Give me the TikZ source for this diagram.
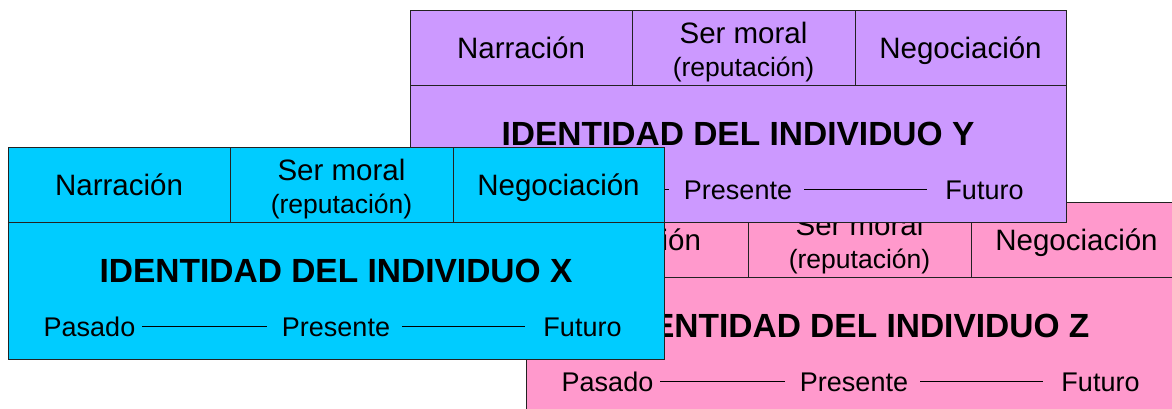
\documentclass[tikz,border=0pt]{standalone}
\usepackage{fontspec}
\setmainfont{Liberation Sans}
\definecolor{cardX}{HTML}{00CCFF}
\definecolor{cardY}{HTML}{CC99FF}
\definecolor{cardZ}{HTML}{FF99CC}
\definecolor{edge}{HTML}{222222}
\tikzset{
  box/.style={draw=edge, line width=1.1pt, inner sep=0pt, anchor=north west},
  head/.style={font=\fontsize{29.5}{31}\selectfont, anchor=base, inner sep=0pt},
  sub/.style={font=\fontsize{26.5}{28}\selectfont, anchor=base, inner sep=0pt},
  ttl/.style={font=\fontsize{33.5}{36}\selectfont\bfseries, anchor=base, inner sep=0pt},
  tl/.style={font=\fontsize{27}{29}\selectfont, anchor=base, inner sep=0pt, text height=19pt, text depth=0pt},
  tline/.style={draw=black, line width=1.6pt},
}
\newcommand{\card}[4]{%
  \begin{scope}[shift={#2}]
    \node[box, fill=#3, minimum width=656pt, minimum height=212pt] (#1body) at (0,0) {};
    \node[box, fill=#3, minimum width=222pt, minimum height=75pt] (#1c1) at (0,0) {};
    \node[box, fill=#3, minimum width=223pt, minimum height=75pt] (#1c2) at (222,0) {};
    \node[box, fill=#3, minimum width=211pt, minimum height=75pt] (#1c3) at (445,0) {};
    \node[head] (#1nar) at (111,48) {Narración};
    \node[head] (#1ser) at (333.5,33) {Ser moral};
    \node[sub]  (#1rep) at (333.5,66) {(reputación)};
    \node[head] (#1neg) at (550.5,48) {Negociación};
    \node[ttl]  (#1ttl) at (328,135) {IDENTIDAD DEL INDIVIDUO #4};
    \node[tl] (#1pas) at (81.5,189) {Pasado};
    \node[tl] (#1pre) at (328,189) {Presente};
    \node[tl] (#1fut) at (574.5,189) {Futuro};
    \draw[tline, shorten <=7pt, shorten >=15pt] (#1pas.east) -- (#1pre.west);
    \draw[tline, shorten <=12pt, shorten >=18pt] (#1pre.east) -- (#1fut.west);
  \end{scope}}
\begin{document}
\begin{tikzpicture}[x=1pt,y=-1pt]
  \useasboundingbox (0,0) rectangle (1172,408);
  \clip (0,0) rectangle (1172,408);
  \card{Z}{(526,202)}{cardZ}{Z}
  \card{Y}{(410,10)}{cardY}{Y}
  \card{X}{(8,147)}{cardX}{X}
\end{tikzpicture}
\end{document}
